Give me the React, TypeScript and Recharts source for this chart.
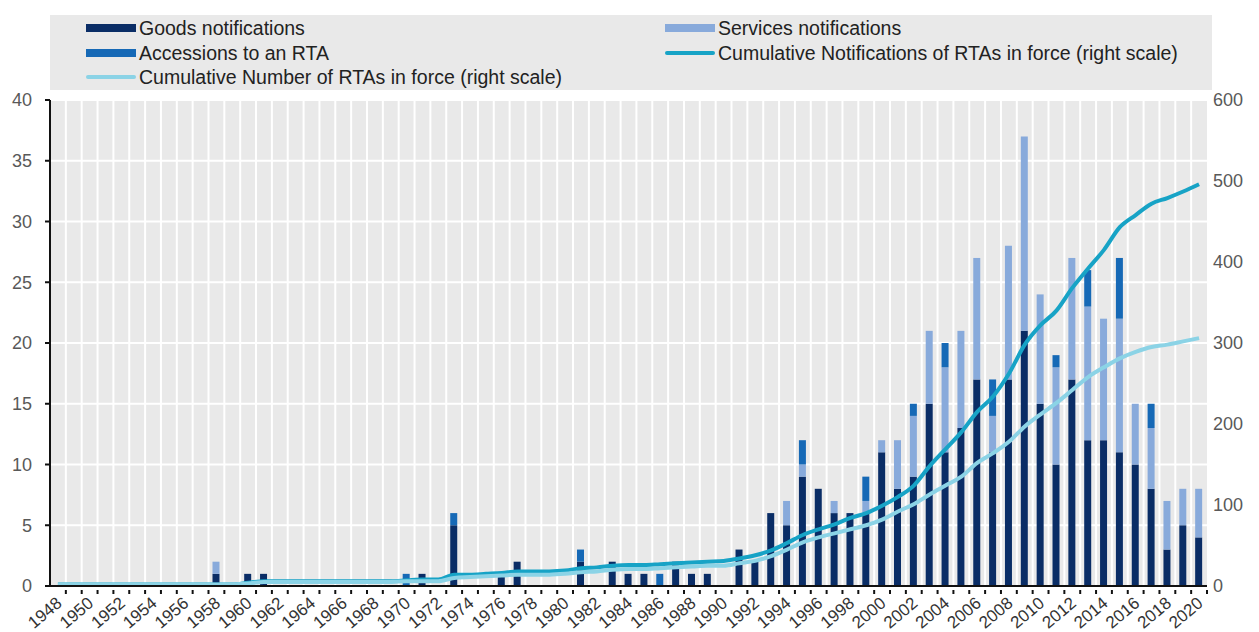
import React from 'react';
import { ComposedChart, Bar, Line, XAxis, YAxis, CartesianGrid } from 'recharts';

const years = [
  '1948','1949','1950','1951','1952','1953','1954','1955','1956','1957',
  '1958','1959','1960','1961','1962','1963','1964','1965','1966','1967',
  '1968','1969','1970','1971','1972','1973','1974','1975','1976','1977',
  '1978','1979','1980','1981','1982','1983','1984','1985','1986','1987',
  '1988','1989','1990','1991','1992','1993','1994','1995','1996','1997',
  '1998','1999','2000','2001','2002','2003','2004','2005','2006','2007',
  '2008','2009','2010','2011','2012','2013','2014','2015','2016','2017',
  '2018','2019','2020',
];

const goods = [
  0,0,0,0,0,0,0,0,0,0,
  1,0,1,1,0,0,0,0,0,0,
  0,0,0,1,0,5,0,0,1,2,
  0,0,0,2,0,2,1,1,0,2,
  1,1,0,3,2,6,5,9,8,6,
  6,6,11,8,9,15,11,13,17,11,
  17,21,15,10,17,12,12,11,10,8,
  3,5,4,
];

const services = [
  0,0,0,0,0,0,0,0,0,0,
  1,0,0,0,0,0,0,0,0,0,
  0,0,0,0,0,0,0,0,0,0,
  0,0,0,0,0,0,0,0,0,0,
  0,0,0,0,0,0,2,1,0,1,
  0,1,1,4,5,6,7,8,10,3,
  11,16,9,8,10,11,10,11,5,5,
  4,3,4,
];

const accessions = [
  0,0,0,0,0,0,0,0,0,0,
  0,0,0,0,0,0,0,0,0,0,
  0,0,1,0,0,1,0,0,0,0,
  0,0,0,1,0,0,0,0,1,0,
  0,0,0,0,0,0,0,2,0,0,
  0,2,0,0,1,0,2,0,0,3,
  0,0,0,1,0,3,0,5,0,2,
  0,0,0,
];

const cumNotifications = [
  2,2,2,2,2,2,2,2,2,2,
  2,2,4,6,6,6,6,6,6,6,
  6,6,7,8,8,14,14,15,16,18,
  18,18,19,22,23,25,26,26,27,28,
  29,30,31,34,38,44,53,63,70,76,
  84,90,99,110,124,148,169,190,215,234,
  262,298,322,340,368,392,415,443,458,472,
  479,487,496,
];

const cumNumber = [
  2,2,2,2,2,2,2,2,2,2,
  2,2,3,5,5,5,5,5,5,5,
  5,5,6,6,6,10,11,12,13,14,
  14,14,15,17,18,20,21,21,22,23,
  24,25,25,28,31,37,45,54,60,65,
  70,75,82,92,101,113,124,135,152,164,
  178,197,212,226,242,258,270,281,289,295,
  298,302,306,
];

const leftTicks = [0, 5, 10, 15, 20, 25, 30, 35, 40];
const rightTicks = [0, 100, 200, 300, 400, 500, 600];

const data = years.map((y, i) => ({
  year: y,
  goods: goods[i],
  services: services[i],
  accessions: accessions[i],
  cumNotif: cumNotifications[i],
  cumNum: cumNumber[i],
}));

const C_GOODS = '#0a2d66';
const C_SERV = '#88aadb';
const C_ACC = '#1669b6';
const C_NOTIF = '#17a3c6';
const C_NUM = '#8bd3e6';
const FONT = '"Liberation Sans", Arial, Helvetica, sans-serif';

const XTick = (props: any) => {
  const { x, y, payload, index } = props;
  const half = payload && typeof payload.offset === 'number' && payload.offset > 0 ? payload.offset : 7.9;
  const lx = x + 5;
  const ly = y + 11;
  return (
    <g>
      <line x1={x + half} x2={x + half} y1={y} y2={y - 4} stroke="#111" strokeWidth={2} />
      {index % 2 === 0 ? (
        <text
          x={lx}
          y={ly}
          textAnchor="end"
          transform={`rotate(-40, ${lx}, ${ly})`}
          fontSize={17}
          fill="#333"
          fontFamily={FONT}
        >
          {payload.value}
        </text>
      ) : null}
    </g>
  );
};

const legendItems = [
  { label: 'Goods notifications', color: C_GOODS, kind: 'bar', col: 0, row: 0 },
  { label: 'Services notifications', color: C_SERV, kind: 'bar', col: 1, row: 0 },
  { label: 'Accessions to an RTA', color: C_ACC, kind: 'bar', col: 0, row: 1 },
  { label: 'Cumulative Notifications of RTAs in force (right scale)', color: C_NOTIF, kind: 'line', col: 1, row: 1 },
  { label: 'Cumulative Number of RTAs in force (right scale)', color: C_NUM, kind: 'line', col: 0, row: 2 },
];

export default function App() {
  const n = years.length;
  return (
    <div style={{ position: 'absolute', left: 0, top: 0, width: 1259, height: 632, background: '#fff', fontFamily: FONT }}>
      <div
        style={{
          position: 'absolute',
          left: 50,
          top: 15,
          width: 1162,
          height: 75,
          background: '#e9e9e9',
        }}
      />
      {legendItems.map((it) => {
        const left = it.col === 0 ? 86 : 665;
        const cy = 28 + it.row * 24.5;
        return (
          <div key={it.label}>
            <div
              style={{
                position: 'absolute',
                left,
                top: it.kind === 'bar' ? cy - 4 : cy - 2,
                width: 50,
                height: it.kind === 'bar' ? 8 : 4,
                borderRadius: it.kind === 'bar' ? 0 : 2,
                background: it.color,
              }}
            />
            <div
              style={{
                position: 'absolute',
                left: left + 53,
                top: cy - 12,
                height: 24,
                lineHeight: '24px',
                fontSize: 19.5,
                color: '#222',
                whiteSpace: 'nowrap',
              }}
            >
              {it.label}
            </div>
          </div>
        );
      })}
      <div style={{ position: 'absolute', left: 0, top: 0 }}>
        <ComposedChart
          width={1259}
          height={632}
          data={data}
          margin={{ top: 100, right: 0, bottom: 0, left: 0 }}
          barCategoryGap={0}
          barGap={0}
        >
          <CartesianGrid
            yAxisId="left"
            fill="#e9e9e9"
            fillOpacity={1}
            stroke="#ffffff"
            strokeWidth={2}
            horizontal={true}
            vertical={true}
            verticalCoordinatesGenerator={(p: any) => {
              const off = p.offset;
              const w = off.width / n;
              const arr: number[] = [];
              for (let i = 1; i < n; i++) arr.push(off.left + i * w);
              return arr;
            }}
          />
          <XAxis
            dataKey="year"
            height={46}
            interval={0}
            axisLine={{ stroke: '#111', strokeWidth: 2 }}
            tickLine={false}
            tick={<XTick />}
          />
          <YAxis
            yAxisId="left"
            orientation="left"
            width={50}
            domain={[0, 40]}
            ticks={leftTicks}
            interval={0}
            axisLine={{ stroke: '#111', strokeWidth: 2 }}
            tickLine={{ stroke: '#111', strokeWidth: 2 }}
            tickSize={5}
            tickMargin={13}
            tick={{ fontSize: 18, fill: '#595959', fontFamily: FONT }}
          />
          <YAxis
            yAxisId="right"
            orientation="right"
            width={52}
            domain={[0, 600]}
            ticks={rightTicks}
            interval={0}
            axisLine={false}
            tickLine={false}
            tickSize={0}
            tickMargin={6}
            tick={{ fontSize: 18, fill: '#595959', fontFamily: FONT }}
          />
          <Bar yAxisId="left" dataKey="goods" stackId="a" fill={C_GOODS} barSize={7} isAnimationActive={false} />
          <Bar yAxisId="left" dataKey="services" stackId="a" fill={C_SERV} barSize={7} isAnimationActive={false} />
          <Bar yAxisId="left" dataKey="accessions" stackId="a" fill={C_ACC} barSize={7} isAnimationActive={false} />
          <Line
            yAxisId="right"
            type="monotone"
            dataKey="cumNotif"
            stroke={C_NOTIF}
            strokeWidth={4}
            dot={false}
            activeDot={false}
            isAnimationActive={false}
          />
          <Line
            yAxisId="right"
            type="monotone"
            dataKey="cumNum"
            stroke={C_NUM}
            strokeWidth={4}
            dot={false}
            activeDot={false}
            isAnimationActive={false}
          />
        </ComposedChart>
      </div>
    </div>
  );
}
